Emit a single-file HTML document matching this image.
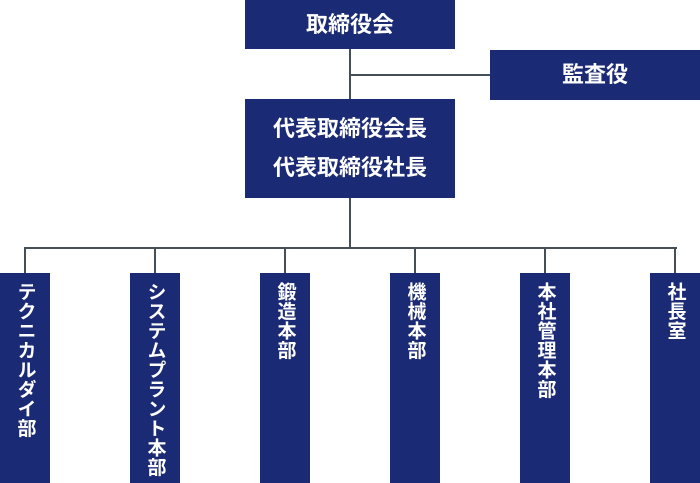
<!DOCTYPE html>
<html><head><meta charset="utf-8"><style>
body{margin:0;width:700px;height:483px;position:relative;background:#fff;overflow:hidden;font-family:"Liberation Sans","Noto Sans CJK JP",sans-serif;}
.b{position:absolute;background:#1b2a74;color:#fff;font-size:22px;font-weight:bold;text-align:center;}
.l{position:absolute;background:#454f58;}
.v{position:absolute;top:273px;width:50px;height:210px;background:#1b2a74;color:#fff;font-size:19px;font-weight:bold;}
.v div{writing-mode:vertical-rl;text-orientation:upright;letter-spacing:0.5px;position:absolute;left:50%;transform:translateX(-50%);top:9px;line-height:1;}
</style></head><body>
<div class="l" style="left:349px;top:49px;width:2px;height:50px"></div>
<div class="l" style="left:349px;top:74px;width:141px;height:2px"></div>
<div class="l" style="left:349px;top:198px;width:2px;height:51px"></div>
<div class="l" style="left:24px;top:247px;width:653px;height:2px"></div>
<div class="l" style="left:24px;top:247px;width:2px;height:26px"></div>
<div class="l" style="left:154px;top:247px;width:2px;height:26px"></div>
<div class="l" style="left:284px;top:247px;width:2px;height:26px"></div>
<div class="l" style="left:414px;top:247px;width:2px;height:26px"></div>
<div class="l" style="left:544px;top:247px;width:2px;height:26px"></div>
<div class="l" style="left:674px;top:247px;width:2px;height:26px"></div>
<div class="b" style="left:245px;top:0;width:210px;height:49px;line-height:49px">取締役会</div>
<div class="b" style="left:490px;top:50px;width:210px;height:50px;line-height:50px">監査役</div>
<div class="b" style="left:245px;top:99px;width:210px;height:99px;line-height:39px;padding-top:10px;box-sizing:border-box">代表取締役会長<br>代表取締役社長</div>
<div class="v" style="left:0"><div>テクニカルダイ部</div></div>
<div class="v" style="left:130px"><div>システムプラント本部</div></div>
<div class="v" style="left:260px"><div>鍛造本部</div></div>
<div class="v" style="left:390px"><div>機械本部</div></div>
<div class="v" style="left:520px"><div>本社管理本部</div></div>
<div class="v" style="left:650px"><div>社長室</div></div>
</body></html>
